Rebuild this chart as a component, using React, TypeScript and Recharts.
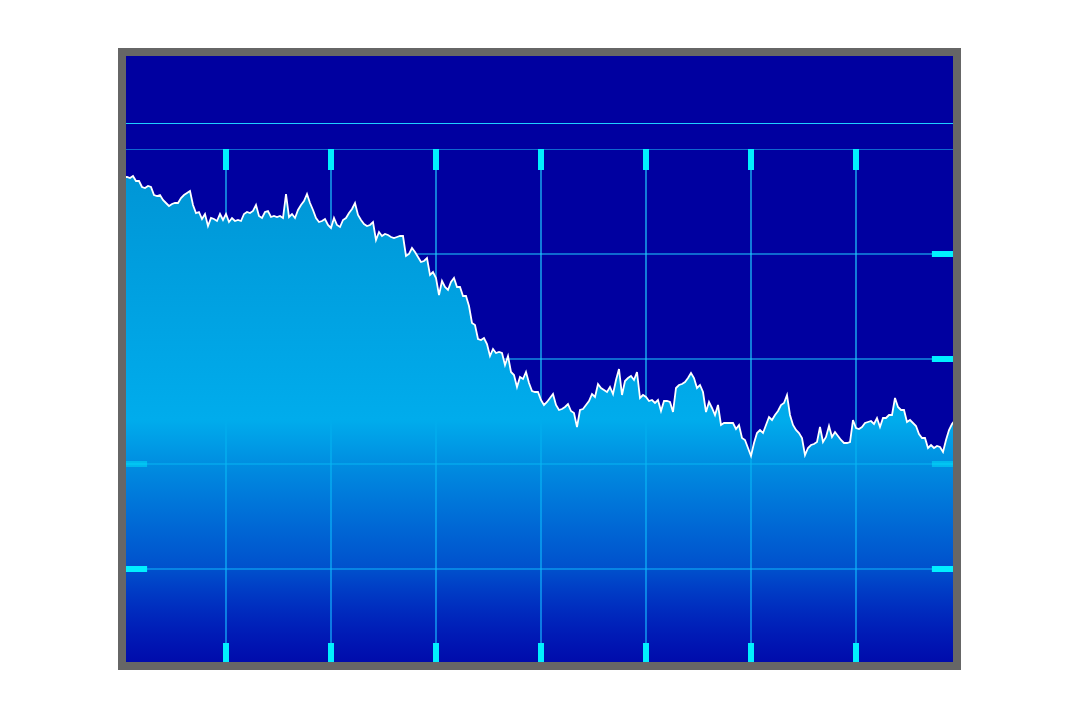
import { AreaChart, Area, XAxis, YAxis, CartesianGrid, ReferenceLine } from "recharts";

// closing level per trading day
const prices = [
  49.7, 49.7, 49.7, 49.6, 49.8, 49.3, 49.3, 48.7, 48.6, 48.8,
  48.7, 47.9, 47.8, 47.9, 47.4, 47.1, 46.8, 47.0, 47.1, 47.1,
  47.6, 47.9, 48.1, 48.3, 46.9, 46.1, 46.2, 45.5, 46.0, 44.8,
  45.6, 45.5, 45.3, 46.0, 45.4, 46.0, 45.2, 45.6, 45.3, 45.4,
  45.3, 46.0, 46.2, 46.1, 46.3, 46.9, 45.8, 45.6, 46.2, 46.3,
  45.7, 45.8, 45.7, 45.8, 45.6, 48.0, 45.7, 46.0, 45.6, 46.4,
  46.9, 47.3, 48.0, 47.1, 46.4, 45.6, 45.2, 45.3, 45.5, 44.9,
  44.6, 45.6, 44.9, 44.7, 45.4, 45.6, 46.1, 46.5, 47.1, 45.9,
  45.4, 45.0, 44.8, 44.9, 45.2, 43.4, 44.2, 43.8, 44.0, 43.9,
  43.7, 43.6, 43.7, 43.8, 43.8, 41.8, 42.0, 42.6, 42.2, 41.7,
  41.2, 41.3, 41.6, 39.9, 40.2, 39.6, 37.9, 39.3, 38.7, 38.4,
  39.2, 39.6, 38.7, 38.7, 37.8, 37.8, 36.8, 35.1, 34.9, 33.5,
  33.4, 33.6, 33.0, 31.8, 32.5, 32.1, 32.2, 32.1, 30.9, 31.8,
  30.2, 29.9, 28.7, 29.7, 29.5, 30.2, 29.1, 28.3, 28.2, 28.2,
  27.4, 26.9, 27.2, 27.6, 28.0, 26.9, 26.4, 26.5, 26.7, 27.0,
  26.3, 26.1, 24.7, 26.4, 26.5, 26.9, 27.3, 28.0, 27.7, 29.0,
  28.6, 28.4, 28.2, 28.7, 28.0, 29.4, 30.5, 27.9, 29.3, 29.6,
  29.8, 29.4, 30.2, 27.6, 27.9, 27.7, 27.3, 27.4, 27.1, 27.4,
  26.3, 27.3, 27.3, 27.2, 26.2, 28.6, 28.9, 29.0, 29.2, 29.6,
  30.1, 29.6, 28.6, 28.9, 28.2, 26.2, 27.2, 26.6, 25.9, 26.9,
  24.9, 25.1, 25.1, 25.1, 25.1, 24.5, 24.9, 23.6, 23.4, 22.6,
  21.8, 23.1, 24.1, 24.4, 24.1, 24.9, 25.7, 25.4, 25.9, 26.3,
  26.9, 27.1, 27.9, 25.9, 24.9, 24.4, 24.1, 23.6, 21.9, 22.6,
  22.9, 23.0, 23.2, 24.7, 23.2, 23.7, 24.8, 23.7, 24.2, 23.8,
  23.4, 23.1, 23.1, 23.2, 25.4, 24.6, 24.5, 24.7, 25.1, 25.2,
  25.3, 25.0, 25.6, 24.7, 25.6, 25.6, 25.9, 25.9, 27.6, 26.7,
  26.4, 26.4, 25.2, 25.4, 25.1, 24.8, 24.0, 23.6, 23.6, 22.6,
  22.9, 22.6, 22.8, 22.7, 22.2, 23.4, 24.4, 25.0, 25.4, 25.6, 25.8,
];

const monthTicks = [35, 70, 105, 140, 175, 210, 245];
const gridTicks = [10.5, 21, 31.5, 42, 52.5];
const rightTicks = [10.5, 21, 31.5, 42];
const leftTicks = [10.5, 21];

const data = prices.map((price, day) => ({ day, price }));

const FIRST_DAY = 0;
const LAST_DAY = 280;
const LEFT_TICK_DAYS = 8.7;
const RIGHT_TICK_DAYS = 9.7;

const BG = "#0000a0";
const GRID = "#1ecfff";
const TICK = "#00f0ff";
const blank = () => "";
// ticks that sit behind the denser part of the fill look faded
const tickOpacity = (v: number) => (v === 21 ? 0.45 : 1);

export default function App() {
  return (
    <div
      style={{
        position: "absolute",
        left: 118,
        top: 48,
        width: 843,
        height: 622,
        boxSizing: "border-box",
        border: "8px solid #666666",
        background: BG,
        overflow: "hidden",
      }}
    >
      <div
        style={{
          position: "absolute",
          left: 0,
          right: 0,
          top: 67,
          height: 1,
          background: GRID,
        }}
      />
      <div style={{ position: "absolute", left: -5, top: 93 }}>
        <AreaChart
          width={840}
          height={525}
          data={data}
          margin={{ top: 0, right: 0, bottom: 0, left: 0 }}
        >
          <defs>
            <linearGradient id="areaFill" x1="0" y1="0" x2="0" y2="1">
              <stop offset="0" stopColor="#0096d6" stopOpacity={1} />
              <stop offset="0.49" stopColor="#00acec" stopOpacity={1} />
              <stop offset="0.58" stopColor="#00b0f0" stopOpacity={0.8} />
              <stop offset="0.79" stopColor="#00a0f8" stopOpacity={0.5} />
              <stop offset="0.976" stopColor="#0060ff" stopOpacity={0.12} />
              <stop offset="1" stopColor="#0060ff" stopOpacity={0.1} />
            </linearGradient>
          </defs>
          <CartesianGrid
            xAxisId="top"
            yAxisId="left"
            stroke={GRID}
            strokeWidth={1.2}
            horizontalValues={gridTicks}
            verticalValues={monthTicks}
          />
          <XAxis
            xAxisId="top"
            orientation="top"
            type="number"
            dataKey="day"
            domain={[FIRST_DAY, LAST_DAY]}
            ticks={monthTicks}
            mirror
            tickSize={21}
            axisLine={false}
            tickLine={{ stroke: TICK, strokeWidth: 6 }}
            tickFormatter={blank}
          />
          <XAxis
            xAxisId="bottom"
            orientation="bottom"
            type="number"
            dataKey="day"
            domain={[FIRST_DAY, LAST_DAY]}
            ticks={monthTicks}
            mirror
            tickSize={31}
            axisLine={false}
            tickLine={{ stroke: TICK, strokeWidth: 6 }}
            tickFormatter={blank}
          />
          <YAxis
            yAxisId="left"
            orientation="left"
            type="number"
            domain={[0, 52.5]}
            hide
          />
          <Area
            xAxisId="top"
            yAxisId="left"
            type="linear"
            dataKey="price"
            stroke="#ffffff"
            strokeWidth={1.8}
            fill="url(#areaFill)"
            fillOpacity={1}
            dot={false}
            activeDot={false}
            isAnimationActive={false}
          />
          {leftTicks.map((v) => (
            <ReferenceLine
              key={`l${v}`}
              xAxisId="top"
              yAxisId="left"
              segment={[
                { x: FIRST_DAY, y: v },
                { x: FIRST_DAY + LEFT_TICK_DAYS, y: v },
              ]}
              stroke={TICK}
              strokeWidth={6}
              strokeOpacity={tickOpacity(v)}
            />
          ))}
          {rightTicks.map((v) => (
            <ReferenceLine
              key={`r${v}`}
              xAxisId="top"
              yAxisId="left"
              segment={[
                { x: LAST_DAY - RIGHT_TICK_DAYS, y: v },
                { x: LAST_DAY, y: v },
              ]}
              stroke={TICK}
              strokeWidth={6}
              strokeOpacity={tickOpacity(v)}
            />
          ))}
        </AreaChart>
      </div>
    </div>
  );
}
